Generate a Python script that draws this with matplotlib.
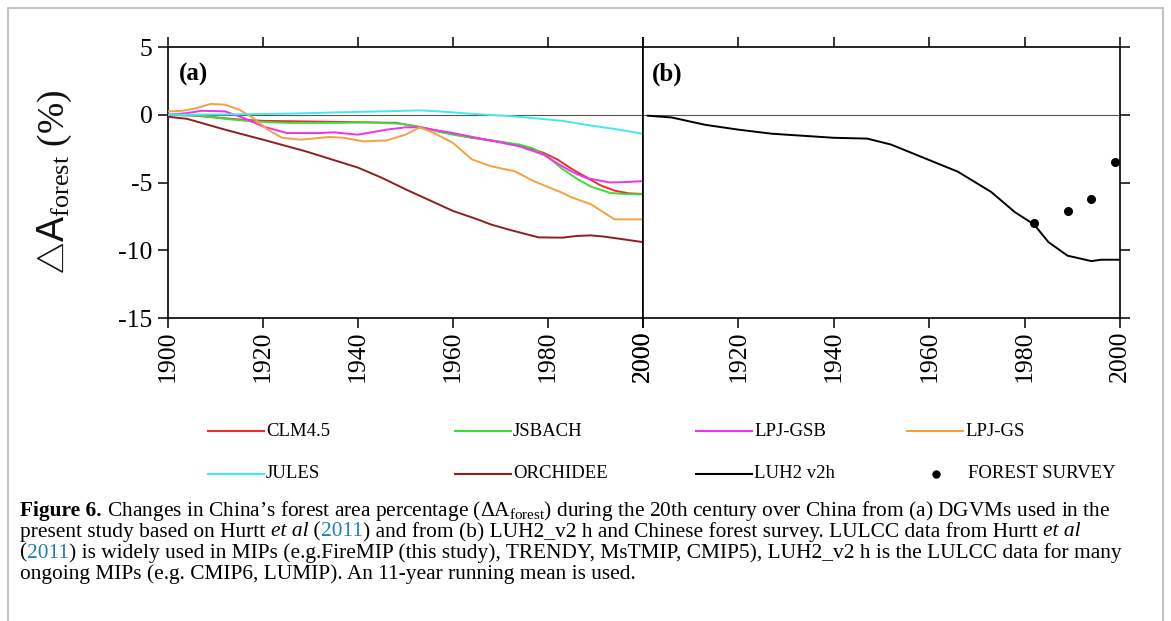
import matplotlib
matplotlib.use("Agg")
import matplotlib.pyplot as plt
from matplotlib.lines import Line2D
from matplotlib.patches import Rectangle

plt.rcParams['font.family'] = ['Liberation Serif', 'DejaVu Serif']
plt.rcParams['mathtext.fontset'] = 'custom'
plt.rcParams['mathtext.rm'] = 'Liberation Serif'
plt.rcParams['mathtext.it'] = 'Liberation Serif:italic'
plt.rcParams['mathtext.bf'] = 'Liberation Serif:bold'
plt.rcParams['mathtext.sf'] = 'Liberation Sans'

# ---- data ----
clm_year = [1900, 1905, 1910, 1915, 1920, 1930, 1940, 1948, 1953, 1958, 1964, 1970,
            1975, 1979, 1982, 1985, 1988, 1991, 1994, 1997, 2000]
clm_val = [0, -0.05, -0.2, -0.35, -0.45, -0.5, -0.55, -0.6, -0.9, -1.3, -1.7, -2.0,
           -2.35, -2.8, -3.3, -4.0, -4.6, -5.2, -5.6, -5.8, -5.85]

jsb_year = [1900, 1907, 1912, 1918, 1925, 1935, 1942, 1949, 1953, 1957, 1960, 1967,
            1974, 1977, 1980, 1983, 1986, 1989, 1993, 1996, 2000]
jsb_val = [0, -0.07, -0.3, -0.5, -0.6, -0.6, -0.56, -0.66, -0.9, -1.25, -1.47, -1.84,
           -2.2, -2.5, -3.1, -4.0, -4.7, -5.3, -5.76, -5.85, -5.88]

gsb_year = [1900, 1904, 1907, 1912, 1916, 1920, 1925, 1932, 1935, 1940, 1946, 1950,
            1953, 1960, 1967, 1974, 1979, 1982, 1985, 1988, 1993, 1996, 2000]
gsb_val = [0, 0.12, 0.29, 0.25, -0.25, -0.86, -1.35, -1.35, -1.3, -1.47, -1.1, -0.93,
           -0.93, -1.35, -1.84, -2.33, -2.94, -3.6, -4.2, -4.66, -5.0, -4.97, -4.9]

gs_year = [1900, 1903, 1906, 1909, 1912, 1915, 1918, 1921, 1924, 1928, 1934, 1937,
           1941, 1946, 1950, 1953, 1956, 1960, 1964, 1968, 1973, 1977, 1983, 1985,
           1989, 1994, 2000]
gs_val = [0.25, 0.29, 0.49, 0.8, 0.74, 0.37, -0.25, -1.1, -1.7, -1.84, -1.64, -1.7,
          -1.96, -1.9, -1.47, -0.93, -1.35, -2.08, -3.3, -3.8, -4.17, -4.9, -5.76,
          -6.1, -6.6, -7.72, -7.72]

jules_year = [1900, 1910, 1920, 1930, 1935, 1945, 1953, 1957, 1962, 1967, 1972, 1977,
              1983, 1988, 1994, 2000]
jules_val = [0, 0.02, 0.05, 0.12, 0.17, 0.25, 0.32, 0.25, 0.12, 0.0, -0.1, -0.25,
             -0.45, -0.74, -1.05, -1.4]

orc_year = [1900, 1904, 1912, 1920, 1929, 1940, 1945, 1950, 1955, 1960, 1965, 1968,
            1972, 1978, 1983, 1986, 1989, 1992, 1995, 2000]
orc_val = [-0.15, -0.3, -1.1, -1.84, -2.7, -3.9, -4.65, -5.5, -6.3, -7.1, -7.7, -8.1,
           -8.5, -9.05, -9.07, -8.95, -8.9, -9.0, -9.15, -9.4]

luh_year = [1901, 1906, 1913, 1920, 1927, 1940, 1947, 1952, 1959, 1966, 1973, 1978,
            1982, 1985, 1989, 1994, 1996, 2000]
luh_val = [-0.07, -0.2, -0.74, -1.1, -1.4, -1.7, -1.76, -2.2, -3.2, -4.2, -5.7, -7.2,
           -8.1, -9.4, -10.4, -10.8, -10.7, -10.7]

survey_year = [1982, 1989, 1994, 1999]
survey_val = [-8.0, -7.1, -6.2, -3.5]

models = ['CLM4.5', 'JSBACH', 'LPJ-GSB', 'LPJ-GS', 'JULES', 'ORCHIDEE']
model_years = [clm_year, jsb_year, gsb_year, gs_year, jules_year, orc_year]
model_vals = [clm_val, jsb_val, gsb_val, gs_val, jules_val, orc_val]
model_colors = ['#ec2d2d', '#3ddc3d', '#ee33ee', '#f5a142', '#44e8f2', '#8e1f1f']

xticks = [1900, 1920, 1940, 1960, 1980, 2000]
xlabels_a = ['1900', '1920', '1940', '1960', '1980', '2000']
xlabels_b = ['2000', '1920', '1940', '1960', '1980', '2000']
yticks = [5, 0, -5, -10, -15]

fig = plt.figure(figsize=(11.71, 6.21), dpi=100)
W, H = 1171, 621

ax_a = fig.add_axes([168 / W, 1 - 318 / H, 475 / W, 271 / H])
ax_b = fig.add_axes([643 / W, 1 - 318 / H, 477 / W, 271 / H])

for ax in (ax_a, ax_b):
    ax.set_xlim(1900, 2000)
    ax.set_ylim(-15, 5)
    ax.axhline(0, color='#555555', lw=0.8, zorder=1)
    ax.set_xticks(xticks)
    ax.set_yticks(yticks)
    ax.tick_params(direction='out', length=7, width=1.1, labelsize=18.5, pad=4)
    ax.tick_params(axis='x', top=True, pad=2)
    for sp in ax.spines.values():
        sp.set_linewidth(1.2)

ax_a.set_xticklabels(xlabels_a, rotation=90)
ax_a.set_yticklabels([str(v) for v in yticks])
ax_a.tick_params(axis='y', left=True, right=False)
ax_b.set_xticklabels(xlabels_b, rotation=90)
ax_b.tick_params(axis='y', left=False, right=True, labelleft=False)

handles = []
for name, yr, vals, c in zip(models, model_years, model_vals, model_colors):
    ln, = ax_a.plot(yr, vals, color=c, lw=1.4, label=name, zorder=3)
    handles.append(ln)

ln, = ax_b.plot(luh_year, luh_val, color='black', lw=1.4, label='LUH2 v2h', zorder=3)
handles.append(ln)
pts = ax_b.scatter(survey_year, survey_val, s=30, color='black', zorder=4,
                   label='FOREST SURVEY')

ax_a.text(0.022, 0.9, '(a)', transform=ax_a.transAxes, fontsize=18,
          fontweight='bold', va='center')
ax_b.text(0.018, 0.9, '(b)', transform=ax_b.transAxes, fontsize=18,
          fontweight='bold', va='center')

fig.text(55 / W, 1 - 182 / H,
         r'$\bigtriangleup\mathsf{A}_{\mathrm{forest}}$ (%)',
         rotation=90, fontsize=27, ha='center', va='center', color='#111111')

# legend drawn by hand under the panels
leg_x = [208, 455, 696, 907]
leg_y = [431, 474]
for i, h in enumerate(handles):
    x0 = leg_x[i % 4]
    y0 = 1 - leg_y[i // 4] / H
    fig.add_artist(Line2D([x0 / W, (x0 + 56) / W], [y0, y0], color=h.get_color(), lw=1.5))
    fig.text((x0 + 58) / W, y0, h.get_label(), fontsize=13.5, va='center')
fig.add_artist(Line2D([936 / W], [1 - 474 / H], marker='o', ms=5, color='black', lw=0))
fig.text(968 / W, 1 - 474 / H, pts.get_label(), fontsize=13.5, va='center')

# caption, drawn piece by piece
blue = '#1f7fb8'
cap_size = 15.4
cap_lines = [
    [('Figure 6.', {'fontweight': 'bold'}),
     (' Changes in China\u2019s forest area percentage ($\\Delta$A$_{\\mathrm{forest}}$) during the 20th century over China from (a) DGVMs used in the', {})],
    [('present study based on Hurtt ', {}), ('et al', {'style': 'italic'}), (' (', {}),
     ('2011', {'color': blue}), (') and from (b) LUH2_v2 h and Chinese forest survey. LULCC data from Hurtt ', {}),
     ('et al', {'style': 'italic'})],
    [('(', {}), ('2011', {'color': blue}),
     (') is widely used in MIPs (e.g.FireMIP (this study), TRENDY, MsTMIP, CMIP5), LUH2_v2 h is the LULCC data for many', {})],
    [('ongoing MIPs (e.g. CMIP6, LUMIP). An 11-year running mean is used.', {})],
]
cap_y = [511, 532, 553, 574]
renderer = fig.canvas.get_renderer()
for parts, yy in zip(cap_lines, cap_y):
    x = 20 / W
    for s, kw in parts:
        t = fig.text(x, 1 - yy / H, s, fontsize=cap_size, va='center', **kw)
        bb = t.get_window_extent(renderer)
        x += bb.width / W

fig.add_artist(Rectangle((8 / W, -0.1), 1155 / W, 1.1 - 8 / H, fill=False,
                         edgecolor='#c4c4c4', lw=1.5, transform=fig.transFigure))

fig.savefig('out.png', dpi=100)
